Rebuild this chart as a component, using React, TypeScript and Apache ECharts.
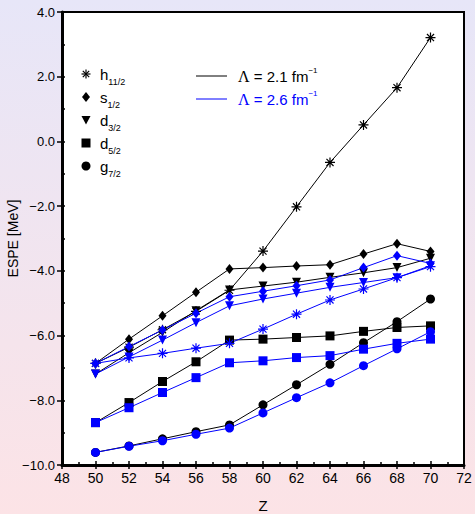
import React, { useEffect, useRef } from 'react';
import * as echarts from 'echarts';

// Proton number Z
const zValues = [50, 52, 54, 56, 58, 60, 62, 64, 66, 68, 70];

// Λ = 2.1 fm^-1 (black)
const h11_a = [-6.86, -6.36, -5.82, -5.25, -4.6, -3.39, -2.02, -0.65, 0.51, 1.66, 3.21];
const s12_a = [-6.86, -6.11, -5.39, -4.66, -3.94, -3.9, -3.85, -3.81, -3.48, -3.16, -3.4];
const d32_a = [-7.19, -6.53, -5.9, -5.23, -4.59, -4.47, -4.35, -4.2, -4.06, -3.9, -3.61];
const d52_a = [-8.69, -8.07, -7.42, -6.81, -6.14, -6.11, -6.06, -6.01, -5.87, -5.75, -5.7];
const g72_a = [-9.61, -9.41, -9.19, -8.97, -8.76, -8.14, -7.52, -6.89, -6.22, -5.57, -4.87];

// Λ = 2.6 fm^-1 (blue)
const h11_b = [-6.86, -6.69, -6.55, -6.39, -6.24, -5.8, -5.34, -4.9, -4.56, -4.21, -3.87];
const s12_b = [-6.86, -6.34, -5.83, -5.31, -4.8, -4.63, -4.46, -4.28, -3.9, -3.53, -3.77];
const d32_b = [-7.19, -6.66, -6.14, -5.6, -5.08, -4.87, -4.69, -4.51, -4.36, -4.21, -3.84];
const d52_b = [-8.69, -8.23, -7.76, -7.3, -6.84, -6.78, -6.68, -6.62, -6.42, -6.24, -6.11];
const g72_b = [-9.61, -9.42, -9.25, -9.05, -8.86, -8.39, -7.92, -7.46, -6.93, -6.41, -5.88];

const orbitals = [
  { base: 'h', sub: '11/2' },
  { base: 's', sub: '1/2' },
  { base: 'd', sub: '3/2' },
  { base: 'd', sub: '5/2' },
  { base: 'g', sub: '7/2' },
];
const lambdaLabels = ['2.1', '2.6'];

const ASTERISK =
  'path://M-0.6,-5L0.6,-5L0.6,5L-0.6,5Z M-5,-0.6L5,-0.6L5,0.6L-5,0.6Z M3.11,-3.96L3.96,-3.11L-3.11,3.96L-3.96,3.11Z M3.96,3.11L3.11,3.96L-3.96,-3.11L-3.11,-3.96Z';

const BLACK = '#000000';
const BLUE = '#0000ff';
const FONT = 'Liberation Sans, Arial, sans-serif';

const symbols = [
  { symbol: ASTERISK, size: 10, rotate: 0 },
  { symbol: 'diamond', size: [8, 10], rotate: 0 },
  { symbol: 'triangle', size: 9, rotate: 180 },
  { symbol: 'rect', size: 9, rotate: 0 },
  { symbol: 'circle', size: 9, rotate: 0 },
];

function mk(name: string, data: number[], color: string, idx: number) {
  const s = symbols[idx];
  return {
    type: 'line',
    name,
    data: zValues.map((z, i) => [z, data[i]]),
    symbol: s.symbol,
    symbolSize: s.size,
    symbolRotate: s.rotate,
    showAllSymbol: true,
    lineStyle: { color, width: 1 },
    itemStyle: { color },
    emphasis: { disabled: true },
  };
}

export default function App() {
  const ref = useRef<HTMLDivElement>(null);
  useEffect(() => {
    document.body.style.margin = '0';
    const chart = echarts.init(ref.current!, undefined, { renderer: 'svg' });

    const sets21 = [h11_a, s12_a, d32_a, d52_a, g72_a];
    const sets26 = [h11_b, s12_b, d32_b, d52_b, g72_b];
    const series: any[] = [];
    sets21.forEach((d, i) => series.push(mk(`${orbitals[i].base}${orbitals[i].sub} 2.1`, d, BLACK, i)));
    sets26.forEach((d, i) => series.push(mk(`${orbitals[i].base}${orbitals[i].sub} 2.6`, d, BLUE, i)));

    const lx = 86;
    const ly0 = 74;
    const dy = 23;
    const legendMarks: any[] = [
      {
        type: 'group',
        x: lx,
        y: ly0,
        children: [
          { type: 'line', shape: { x1: 0, y1: -4.5, x2: 0, y2: 4.5 }, style: { stroke: BLACK, lineWidth: 1.2 } },
          { type: 'line', shape: { x1: -4.5, y1: 0, x2: 4.5, y2: 0 }, style: { stroke: BLACK, lineWidth: 1.2 } },
          { type: 'line', shape: { x1: -3.2, y1: -3.2, x2: 3.2, y2: 3.2 }, style: { stroke: BLACK, lineWidth: 1.2 } },
          { type: 'line', shape: { x1: -3.2, y1: 3.2, x2: 3.2, y2: -3.2 }, style: { stroke: BLACK, lineWidth: 1.2 } },
        ],
      },
      {
        type: 'polygon',
        shape: { points: [[lx, ly0 + dy - 5], [lx + 4, ly0 + dy], [lx, ly0 + dy + 5], [lx - 4, ly0 + dy]] },
        style: { fill: BLACK },
      },
      {
        type: 'polygon',
        shape: { points: [[lx - 4.5, ly0 + 2 * dy - 4], [lx + 4.5, ly0 + 2 * dy - 4], [lx, ly0 + 2 * dy + 4.5]] },
        style: { fill: BLACK },
      },
      {
        type: 'rect',
        shape: { x: lx - 4.5, y: ly0 + 3 * dy - 4.5, width: 9, height: 9 },
        style: { fill: BLACK },
      },
      {
        type: 'circle',
        shape: { cx: lx, cy: ly0 + 4 * dy, r: 4.5 },
        style: { fill: BLACK },
      },
    ];
    const legendTexts = orbitals.map((o, i) => ({
      type: 'text',
      x: 100,
      y: ly0 + i * dy,
      style: {
        text: `{m|${o.base}}{s|${o.sub}}`,
        verticalAlign: 'middle',
        rich: {
          m: { fontSize: 15, fontFamily: FONT, fill: BLACK, lineHeight: 24, verticalAlign: 'middle' },
          s: { fontSize: 9, fontFamily: FONT, fill: BLACK, lineHeight: 10, verticalAlign: 'bottom', padding: [14, 0, 0, 0] },
        },
      },
    }));
    const lamColors = [BLACK, BLUE];
    const lamItems: any[] = [];
    lambdaLabels.forEach((lab, i) => {
      const y = 76 + i * 23;
      lamItems.push({
        type: 'line',
        shape: { x1: 196, y1: y, x2: 227, y2: y },
        style: { stroke: lamColors[i], lineWidth: 1 },
      });
      lamItems.push({
        type: 'text',
        x: 238,
        y,
        style: {
          text: `{g|Λ}{t| = ${lab} fm}{p|−1}`,
          verticalAlign: 'middle',
          rich: {
            g: { fontSize: 16, fontFamily: 'Liberation Serif, serif', fill: lamColors[i], lineHeight: 20, verticalAlign: 'middle' },
            t: { fontSize: 15, fontFamily: FONT, fill: lamColors[i], lineHeight: 20, verticalAlign: 'middle' },
            p: { fontSize: 8, fontFamily: FONT, fill: lamColors[i], lineHeight: 12, verticalAlign: 'top' },
          },
        },
      });
    });

    const fmtY = (v: number) => v.toFixed(1).replace('-', '−');

    chart.setOption({
      animation: false,
      backgroundColor: new echarts.graphic.LinearGradient(0, 0, 0, 1, [
        { offset: 0, color: '#e7e6f8' },
        { offset: 1, color: '#fce3e6' },
      ]),
      grid: {
        left: 62,
        right: 11,
        top: 12,
        bottom: 49,
        show: true,
        outerBoundsMode: 'none',
        containLabel: false,
        backgroundColor: '#ffffff',
        borderColor: BLACK,
        borderWidth: 2,
      },
      xAxis: [
        {
          type: 'value',
          min: 48,
          max: 72,
          interval: 2,
          position: 'bottom',
          axisLine: { show: true, onZero: false, lineStyle: { color: BLACK, width: 3 } },
          axisTick: { show: true, length: 4, lineStyle: { color: BLACK, width: 1.5 } },
          axisLabel: { color: BLACK, fontSize: 14, fontFamily: FONT, margin: 6 },
          splitLine: { show: false },
          name: 'Z',
          nameLocation: 'middle',
          nameGap: 33,
          nameMoveOverlap: false,
          nameTextStyle: { color: BLACK, fontSize: 15, fontFamily: FONT },
        },
        {
          type: 'value',
          min: 48,
          max: 72,
          interval: 2,
          position: 'bottom',
          axisLine: { show: false, onZero: false },
          axisTick: { show: true, inside: true, length: 4, lineStyle: { color: BLACK, width: 1.5 } },
          minorTick: { show: true, splitNumber: 2, length: 3, lineStyle: { color: BLACK, width: 1.5 } },
          axisLabel: { show: false },
          splitLine: { show: false },
        },
      ],
      yAxis: [
        {
          type: 'value',
          min: -10,
          max: 4,
          interval: 2,
          position: 'left',
          axisLine: { show: true, onZero: false, lineStyle: { color: BLACK, width: 3 } },
          axisTick: { show: true, length: 5, lineStyle: { color: BLACK, width: 1.5 } },
          axisLabel: { color: BLACK, fontSize: 13, fontFamily: FONT, margin: 7, formatter: fmtY },
          splitLine: { show: false },
          name: 'ESPE [MeV]',
          nameLocation: 'middle',
          nameGap: 42,
          nameMoveOverlap: false,
          nameTextStyle: { color: BLACK, fontSize: 14, fontFamily: FONT },
        },
        {
          type: 'value',
          min: -10,
          max: 4,
          interval: 2,
          position: 'left',
          axisLine: { show: false, onZero: false },
          axisTick: { show: true, inside: true, length: 3, lineStyle: { color: BLACK, width: 1.5 } },
          minorTick: { show: true, splitNumber: 2, length: 3, lineStyle: { color: BLACK, width: 1.5 } },
          axisLabel: { show: false },
          splitLine: { show: false },
        },
      ],
      series,
      graphic: [...legendMarks, ...legendTexts, ...lamItems],
    });
    return () => chart.dispose();
  }, []);
  return <div ref={ref} style={{ width: 475, height: 514 }} />;
}
